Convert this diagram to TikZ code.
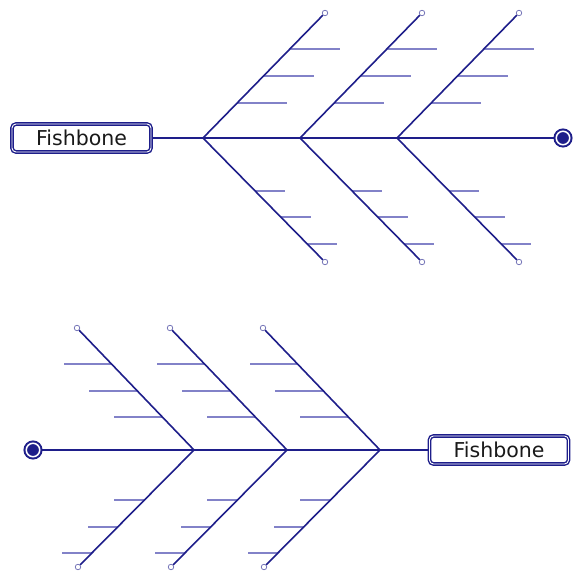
\documentclass[tikz,border=0pt]{standalone}
\usepackage{fontspec}
\setmainfont{DejaVu Sans}
\usetikzlibrary{calc}
\definecolor{bonecol}{RGB}{30,30,138}
\definecolor{ribcol}{RGB}{130,130,200}

\begin{document}
\begin{tikzpicture}[x=1pt, y=-1pt,
  head/.style={draw=bonecol, double=white, double distance=0.9pt, line width=1.4pt, rounded corners=4pt, minimum width=139pt, minimum height=28pt, inner sep=0pt, outer sep=1.5pt, font=\fontsize{20.5}{24}\selectfont, text=black!90},
  tail/.style={circle, draw=bonecol, fill=bonecol, double=white, double distance=1.5pt, line width=2pt, minimum size=13.5pt, inner sep=0pt},
  tip/.style={circle, draw=bonecol!60, fill=white, line width=0.8pt, minimum size=5.5pt, inner sep=0pt},
  spine/.style={draw=bonecol, line width=2.2pt},
  branch/.style={draw=bonecol, line width=1.6pt},
  ribline/.style={draw=ribcol, line width=1.5pt}
]
\useasboundingbox (0,0) rectangle (574,572);

% upper fishbone, head on the left
\node[head] (fish1) at (81.5,138) {Fishbone};
\node[tail] (end1) at (563,138) {};
\draw[spine] (fish1) -- (end1);
\foreach \k in {0,1,2} {
  \coordinate (ja\k) at ({203+97*\k},138);
  \node[tip] (ua\k) at ({325+97*\k},13) {};
  \node[tip] (la\k) at ({325+97*\k},262) {};
  \foreach \f in {0.28,0.496,0.712}
    \draw[ribline] ($(ja\k)!\f!(ua\k)$) -- ++(50,0);
  \foreach \f in {0.427,0.637,0.855}
    \draw[ribline] ($(ja\k)!\f!(la\k)$) -- ++(30,0);
  \draw[branch] (ja\k) -- (ua\k);
  \draw[branch] (ja\k) -- (la\k);
}

% lower fishbone, head on the right
\node[head] (fish2) at (499,450) {Fishbone};
\node[tail] (end2) at (33,450) {};
\draw[spine] (end2) -- (fish2);
\foreach \k in {0,1,2} {
  \coordinate (jb\k) at ({194+93*\k},450);
  \node[tip] (ub\k) at ({77+93*\k},328) {};
  \node[tip] (lb\k) at ({78+93*\k},567) {};
  \foreach \f in {0.27,0.484,0.705}
    \draw[ribline] ($(jb\k)!\f!(ub\k)$) -- ++(-48,0);
  \foreach \f in {0.427,0.658,0.88}
    \draw[ribline] ($(jb\k)!\f!(lb\k)$) -- ++(-30,0);
  \draw[branch] (jb\k) -- (ub\k);
  \draw[branch] (jb\k) -- (lb\k);
}
\end{tikzpicture}
\end{document}
